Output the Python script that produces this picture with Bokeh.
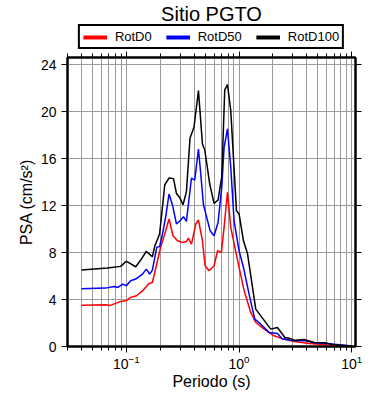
from bokeh.plotting import figure
from bokeh.layouts import column
from bokeh.models import (LogAxis, LinearAxis, FixedTicker, LogTicker, Legend, LegendItem,
                          Range1d, Label)
from bokeh.embed import file_html
from bokeh.resources import INLINE

# ---- data ----
period_d100 = [0.04, 0.0678, 0.089, 0.099, 0.103, 0.121, 0.134, 0.150, 0.170, 0.179, 0.197,
               0.219, 0.239, 0.262, 0.278, 0.297, 0.318, 0.341, 0.367, 0.398, 0.436, 0.473,
               0.496, 0.549, 0.600, 0.651, 0.702, 0.746, 0.789, 0.844, 0.948, 1.0, 1.094,
               1.187, 1.406, 1.558, 1.912, 2.19, 2.55, 2.78, 3.08, 3.78, 4.64, 5.89, 6.97, 10.0]
psa_d100 = [6.51, 6.68, 6.82, 7.24, 7.18, 6.79, 7.36, 8.1, 7.64, 8.58, 9.57,
            13.77, 14.34, 14.29, 13.03, 12.69, 12.07, 13.18, 17.75, 18.66, 21.78, 17.24,
            16.73, 13.83, 12.18, 12.47, 14.45, 21.84, 22.29, 20.08, 11.56, 11.28, 9.0,
            7.92, 3.18, 2.61, 1.48, 1.62, 0.77, 0.71, 0.54, 0.6, 0.34, 0.31, 0.14, 0.05]

period_d50 = [0.04, 0.065, 0.0775, 0.084, 0.093, 0.1, 0.109, 0.121, 0.139, 0.150, 0.161,
              0.170, 0.186, 0.197, 0.209, 0.224, 0.239, 0.256, 0.278, 0.299, 0.321, 0.341,
              0.378, 0.404, 0.436, 0.457, 0.483, 0.553, 0.600, 0.651, 0.702, 0.736, 0.789,
              0.844, 0.903, 1.0, 1.094, 1.227, 1.379, 1.558, 1.847, 2.19, 2.43, 3.08, 3.78,
              4.64, 6.0, 10.0]
psa_d50 = [4.91, 4.97, 5.11, 5.03, 5.31, 5.17, 5.6, 5.74, 6.16, 6.59, 6.16,
           6.5, 8.44, 8.5, 9.57, 11.13, 12.98, 12.07, 10.43, 10.7, 11.05, 10.65,
           14.34, 14.16, 16.81, 14.68, 12.07, 9.86, 9.43, 10.56, 13.54, 16.95, 18.52,
           15.25, 10.7, 8.15, 6.73, 4.46, 2.33, 1.9, 1.2, 1.11, 0.63, 0.5, 0.5,
           0.31, 0.26, 0.04]

period_d0 = [0.04, 0.065, 0.072, 0.0802, 0.089, 0.0995, 0.109, 0.123, 0.139, 0.159, 0.170,
             0.186, 0.201, 0.219, 0.239, 0.259, 0.284, 0.314, 0.341, 0.355, 0.378, 0.413,
             0.436, 0.473, 0.499, 0.541, 0.600, 0.645, 0.697, 0.736, 0.789, 0.844, 0.918,
             1.0, 1.11, 1.27, 1.406, 1.667, 2.045, 2.5, 3.08, 4.2, 6.0, 10.0]
psa_d0 = [3.52, 3.55, 3.5, 3.67, 3.84, 3.89, 4.18, 4.32, 4.74, 5.37, 5.45,
          7.02, 8.44, 9.57, 10.85, 9.43, 9.0, 8.86, 8.94, 9.23, 8.72, 10.43,
          10.77, 9.0, 6.87, 6.45, 6.87, 8.15, 8.01, 10.14, 13.12, 10.14, 8.43,
          6.73, 4.74, 2.9, 2.04, 1.48, 0.91, 0.63, 0.43, 0.26, 0.14, 0.03]

y_ticks = [0, 4, 8, 12, 16, 20, 24]
labels = ["RotD0", "RotD50", "RotD100"]
colors = ["#ff0000", "#0000ff", "#000000"]
series = [(period_d0, psa_d0), (period_d50, psa_d50), (period_d100, psa_d100)]
title_text = "Sitio PGTO"

FONT = "Liberation Sans"
GRID = "#9a9a9a"

# ---------- header: title + legend ----------
head = figure(width=390, height=50, x_range=Range1d(0, 1), y_range=Range1d(0, 50),
              output_backend="svg", toolbar_location=None,
              min_border_left=67, min_border_right=35, min_border_top=0, min_border_bottom=0)
head.outline_line_color = None
head.axis.visible = False
head.grid.visible = False

head.add_layout(Label(x=0.5, y=37, text=title_text, text_align="center",
                      text_baseline="alphabetic", text_font=FONT, text_font_size="20px",
                      text_color="black"))

proxies = [head.line(x, y, line_color=c, line_width=4, visible=False)
           for (x, y), c in zip(series, colors)]
legend = Legend(items=[LegendItem(label=l, renderers=[r]) for l, r in zip(labels, proxies)],
                orientation="horizontal", location="bottom_center")
legend.label_text_font = FONT
legend.label_text_font_size = "13px"
legend.label_text_color = "black"
legend.glyph_width = 24
legend.glyph_height = 12
legend.label_height = 12
legend.label_standoff = 8
legend.spacing = 14
legend.padding = 3
legend.margin = 1
legend.border_line_color = "black"
legend.border_line_alpha = 1
legend.border_line_width = 2
legend.background_fill_alpha = 1
legend.inactive_fill_alpha = 0
head.add_layout(legend, "center")

# ---------- main plot ----------
p = figure(width=390, height=350, x_axis_type="log",
           x_range=Range1d(0.03, 10.8), y_range=Range1d(0, 24.6),
           output_backend="svg", toolbar_location=None,
           min_border_left=67, min_border_right=35, min_border_top=7, min_border_bottom=54)

for (x, y), c in zip(series, colors):
    p.line(x, y, line_color=c, line_width=1.5)

p.xgrid.grid_line_color = GRID
p.xgrid.minor_grid_line_color = GRID
p.ygrid.grid_line_color = GRID
p.ygrid.ticker = FixedTicker(ticks=y_ticks)

def style_axis(ax, show_labels):
    ax.axis_line_width = 2
    ax.axis_line_color = "black"
    ax.major_tick_in = 0
    ax.major_tick_out = 6
    ax.minor_tick_in = 0
    ax.minor_tick_out = 4
    ax.major_tick_line_color = "black"
    ax.minor_tick_line_color = "black"
    ax.major_label_text_font = FONT
    ax.major_label_text_color = "black"
    if show_labels:
        ax.major_label_text_font_size = "14px"
    else:
        ax.major_label_text_font_size = "1px"
        ax.major_label_text_alpha = 0
        ax.major_label_standoff = 0
    ax.axis_label_text_font = FONT
    ax.axis_label_text_font_size = "16px"
    ax.axis_label_text_font_style = "normal"
    ax.axis_label_text_color = "black"

xb = p.xaxis[0]
xb.ticker = LogTicker(num_minor_ticks=10)
xb.axis_label = "Periodo (s)"
style_axis(xb, True)
xb.axis_label_standoff = 1
xb.major_label_standoff = 2

yl = p.yaxis[0]
yl.ticker = FixedTicker(ticks=y_ticks)
yl.axis_label = "PSA (cm/s²)"
style_axis(yl, True)
yl.axis_label_standoff = 3
yl.major_label_standoff = 5
yl.minor_tick_out = 0

xt = LogAxis(ticker=LogTicker(num_minor_ticks=10))
style_axis(xt, False)
p.add_layout(xt, "above")

yr = LinearAxis(ticker=FixedTicker(ticks=y_ticks))
style_axis(yr, False)
yr.minor_tick_out = 0
p.add_layout(yr, "right")

p.outline_line_color = "black"
p.outline_line_width = 2

layout = column(head, p, spacing=0)
html = file_html(layout, INLINE)
open("out.html", "w").write(html)
